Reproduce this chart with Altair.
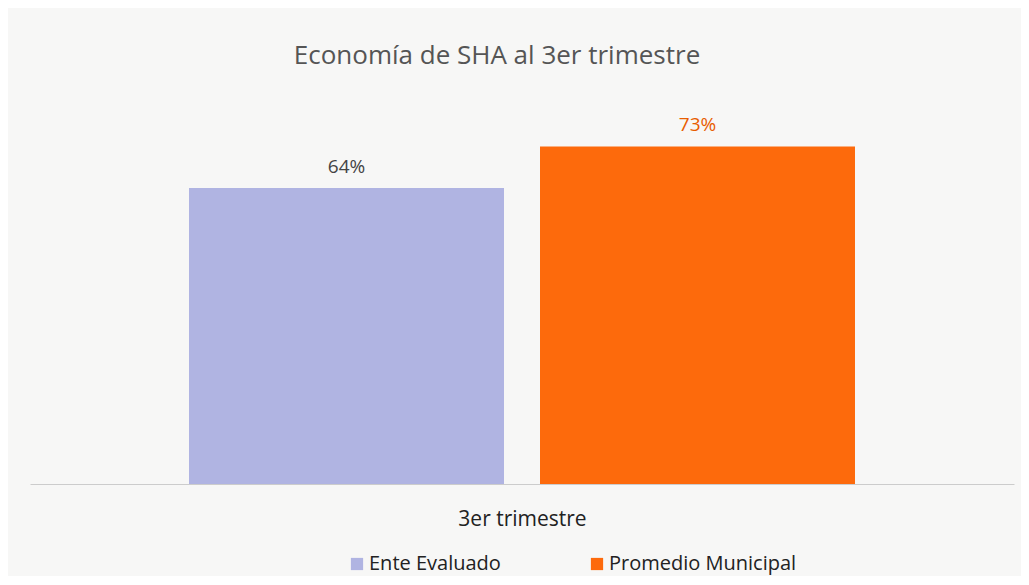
import altair as alt
import pandas as pd

series = ["Ente Evaluado", "Promedio Municipal"]
values = [0.64, 0.73]
labels = ["64%", "73%"]
period = ["3er trimestre", "3er trimestre"]
colors = ["#b0b4e2", "#fd6a0c"]
label_colors = ["#444444", "#e85d00"]

df = pd.DataFrame({"serie": series, "valor": values, "etiqueta": labels,
                   "periodo": period, "lcolor": label_colors})

FONT = "Open Sans"

x = alt.X("serie:N", sort=series,
          scale=alt.Scale(paddingInner=0.1026, paddingOuter=0.453),
          axis=alt.Axis(title="3er trimestre", labels=False, ticks=False,
                        domainColor="#cccccc", titleFontSize=21, titleColor="#222222",
                        titleFont=FONT, titleFontWeight="normal", titlePadding=24))
y = alt.Y("valor:Q", scale=alt.Scale(domain=[0, 0.8]), axis=None)

bars = alt.Chart(df).mark_bar().encode(
    x=x, y=y,
    color=alt.Color("serie:N", sort=series,
                    scale=alt.Scale(domain=series, range=colors),
                    legend=alt.Legend(title=None, orient="none", legendX=317, legendY=440,
                                      direction="horizontal", symbolType="square",
                                      symbolSize=150, symbolStrokeWidth=0,
                                      labelFontSize=20, labelFont=FONT, labelColor="#222222",
                                      labelLimit=400,
                                      columnPadding=86, labelOffset=2)),
)

text = alt.Chart(df).mark_text(baseline="bottom", dy=-11, fontSize=19, font=FONT).encode(
    x=alt.X("serie:N", sort=series), y="valor:Q", text="etiqueta:N",
    color=alt.Color("lcolor:N", scale=None),
)

chart = alt.layer(bars, text).properties(
    width=984, height=370,
    title=alt.Title("Economía de SHA al 3er trimestre", fontSize=26, font=FONT,
                    fontWeight="normal", color="#555555", offset=45, dx=-25),
    padding={"left": 22, "top": 106, "right": 7, "bottom": 92},
    autosize=alt.AutoSizeParams(type="none"),
    background="#f7f7f6",
).configure_view(stroke=None)

chart.save("out.html", embed_options={"renderer": "svg", "actions": False})
